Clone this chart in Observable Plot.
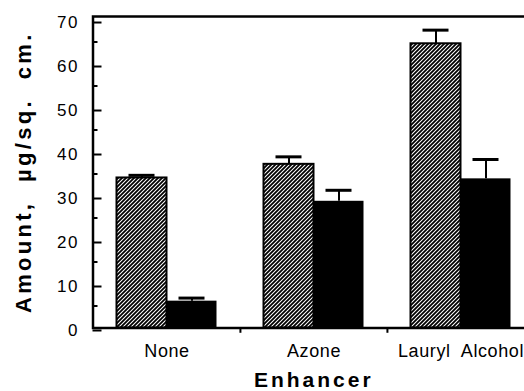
<!DOCTYPE html>
<html>
<head>
<meta charset="utf-8">
<script src="https://cdn.jsdelivr.net/npm/d3@7"></script>
<script src="https://cdn.jsdelivr.net/npm/@observablehq/plot@0.6"></script>
<style>
  html, body { margin: 0; padding: 0; background: white; overflow: hidden; }
  #chart svg { overflow: hidden; display: block; }
</style>
</head>
<body>
<svg width="0" height="0" style="position:absolute">
  <defs>
    <pattern id="hatch" patternUnits="userSpaceOnUse" width="4" height="4">
      <rect width="4" height="4" fill="white"></rect>
      <path d="M-1,1 l2,-2 M0,4 l4,-4 M3,5 l2,-2" stroke="black" stroke-width="1.8"></path>
    </pattern>
  </defs>
</svg>
<div id="chart"></div>
<script>
const enhancers = ["None", "Azone", "Lauryl  Alcohol"];
const hatchedValues = [34.1, 37.2, 64.6];
const hatchedUpper = [34.7, 38.9, 67.7];
const solidValues = [6.1, 28.8, 33.9];
const solidUpper = [6.8, 31.3, 38.3];
const yTicks = [0, 10, 20, 30, 40, 50, 60, 70];
const yMinorTicks = [5, 15, 25, 35, 45, 55, 65];
const groupBoundaries = ["Azone", "Lauryl  Alcohol"];
const yTitle = "Amount,  µg/sq.  cm.";
const xTitle = "Enhancer";

const rows = enhancers.map((e, i) => ({
  enhancer: e,
  hv: hatchedValues[i], he: hatchedUpper[i],
  sv: solidValues[i], se: solidUpper[i]
}));

const font = "'Liberation Sans', Arial, Helvetica, sans-serif";

const chart = Plot.plot({
  width: 524,
  height: 391,
  marginTop: 16,
  marginBottom: 63.5,
  marginLeft: 92.5,
  marginRight: -10,
  style: {fontFamily: font, background: "white", color: "black"},
  x: {domain: enhancers, padding: 0},
  y: {domain: [0, 70.8]},
  marks: [
    Plot.barY(rows, {x: "enhancer", y: "hv", insetLeft: 23.5, insetRight: 73.5, fill: "url(#hatch)", stroke: "black", strokeWidth: 2}),
    Plot.barY(rows, {x: "enhancer", y: "sv", insetLeft: 73.5, insetRight: 23.5, fill: "black"}),
    Plot.ruleX(rows, {x: "enhancer", y1: "hv", y2: "he", dx: -25, strokeWidth: 2}),
    Plot.ruleX(rows, {x: "enhancer", y1: "sv", y2: "se", dx: 25, strokeWidth: 2}),
    Plot.tickY(rows, {x: "enhancer", y: "he", insetLeft: 35.5, insetRight: 85.5, strokeWidth: 3}),
    Plot.tickY(rows, {x: "enhancer", y: "se", insetLeft: 85.5, insetRight: 35.5, strokeWidth: 3}),
    Plot.frame({stroke: "black", strokeWidth: 2.5}),
    Plot.ruleX(groupBoundaries, {x: d => d, dx: -73.58, y1: 0, y2: -1.2, strokeWidth: 2}),
    Plot.axisY(yTicks, {anchor: "left", tickSize: -9, tickPadding: 23, strokeWidth: 2, fontSize: 17, dy: 2.5, label: null}),
    Plot.axisY(yMinorTicks, {anchor: "left", tickSize: -5, strokeWidth: 2, tickFormat: () => "", label: null}),
    Plot.axisX({anchor: "bottom", tickSize: 0, tickPadding: 16, fontSize: 18, label: null}),
    Plot.text([yTitle], {frameAnchor: "left", textAnchor: "middle", lineAnchor: "middle", dx: -69, rotate: -90, fontSize: 22, fontWeight: "bold", fill: "black"}),
    Plot.text([xTitle], {frameAnchor: "bottom", textAnchor: "middle", lineAnchor: "middle", dy: 52, fontSize: 21, fontWeight: "bold", fill: "black"})
  ]
});
const sel = d3.select(chart);
const spacing = new Map([[yTitle, "3.3px"], [xTitle, "3px"]]);
yTicks.forEach(t => spacing.set(String(t), "1.5px"));
enhancers.forEach(e => spacing.set(e, "0.6px"));
sel.selectAll("text").each(function() {
  const s = spacing.get(this.textContent);
  if (s) this.style.letterSpacing = s;
});
document.getElementById("chart").appendChild(chart);
</script>
</body>
</html>
